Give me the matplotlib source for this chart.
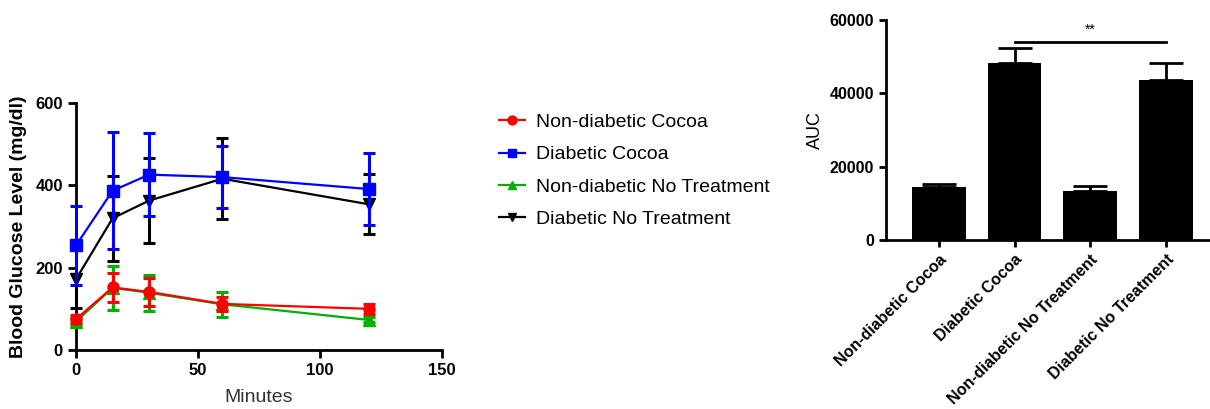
import matplotlib

matplotlib.use("Agg")
import matplotlib.pyplot as plt

plt.rcParams["font.family"] = ["Liberation Sans", "DejaVu Sans"]

# glucose tolerance time course
minutes = [0, 15, 30, 60, 120]
series_names = ["Non-diabetic Cocoa", "Diabetic Cocoa",
                "Non-diabetic No Treatment", "Diabetic No Treatment"]
nd_cocoa = [75, 152, 141, 112, 100]
nd_cocoa_err = [10, 36, 34, 17, 12]
d_cocoa = [254, 387, 426, 420, 391]
d_cocoa_err = [97, 142, 100, 76, 87]
nd_none = [69, 151, 139, 111, 73]
nd_none_err = [8, 53, 44, 30, 6]
d_none = [172, 320, 363, 416, 354]
d_none_err = [70, 103, 103, 98, 73]

# area under curve
auc_groups = ["Non-diabetic Cocoa", "Diabetic Cocoa",
              "Non-diabetic No Treatment", "Diabetic No Treatment"]
auc_values = [14400, 48150, 13500, 43600]
auc_err = [800, 4100, 1350, 4550]

W, H = 1210, 409
fig = plt.figure(figsize=(W / 100, H / 100), dpi=100)

# ---- left: line chart ----
ax = fig.add_axes([76 / W, (H - 350) / H, (442 - 76) / W, (350 - 103) / H])
styles = [
    (nd_cocoa, nd_cocoa_err, "#ff0000", "o", 8, 4),
    (d_cocoa, d_cocoa_err, "#0000ff", "s", 8, 5),
    (nd_none, nd_none_err, "#00b000", "^", 8, 3),
    (d_none, d_none_err, "#000000", "v", 8, 2),
]
handles = []
for (vals, err, col, mk, ms, z), name in zip(styles, series_names):
    h = ax.errorbar(minutes, vals, yerr=err, color=col, marker=mk, ms=ms,
                    lw=1.6, elinewidth=2.2, capsize=4, capthick=2.2,
                    zorder=z, label=name, clip_on=False)
    handles.append(h)

ax.set_xlim(0, 150)
ax.set_ylim(0, 600)
ax.set_xticks([0, 50, 100, 150])
ax.set_yticks([0, 200, 400, 600])
for s in ["top", "right"]:
    ax.spines[s].set_visible(False)
for s in ["left", "bottom"]:
    ax.spines[s].set_linewidth(2)
ax.tick_params(width=2, length=6, labelsize=12)
for lab in ax.get_xticklabels() + ax.get_yticklabels():
    lab.set_fontweight("bold")
ax.set_ylabel("Blood Glucose Level (mg/dl)", fontsize=14, fontweight="bold",
              labelpad=6)
ax.set_xlabel("Minutes", fontsize=14, color="#333333", labelpad=8)

fig.legend(handles=[h[0] for h in handles], labels=series_names,
           loc="upper left", bbox_to_anchor=(481 / W, 1 - 96 / H),
           frameon=False, fontsize=14, handlelength=1.35, labelspacing=0.75,
           handletextpad=0.6, markerscale=0.8)

# ---- right: AUC bars ----
bx = fig.add_axes([886 / W, (H - 240) / H, (1209 - 886) / W, (240 - 20) / H])
pos = list(range(len(auc_groups)))
bx.bar(pos, auc_values, width=0.71, color="black")
bx.errorbar(pos, auc_values, yerr=[[0] * 4, auc_err], fmt="none",
            ecolor="black", elinewidth=2, capsize=12, capthick=2)
bx.set_xlim(-0.7, 3.57)
bx.set_ylim(0, 60000)
bx.set_yticks([0, 20000, 40000, 60000])
bx.set_xticks(pos)
bx.set_xticklabels(auc_groups, rotation=45, ha="right", rotation_mode="anchor",
                   fontsize=11.5, fontweight="bold")
for lab in bx.get_yticklabels():
    lab.set_fontweight("bold")
for s in ["top", "right"]:
    bx.spines[s].set_visible(False)
for s in ["left", "bottom"]:
    bx.spines[s].set_linewidth(2)
bx.tick_params(width=2, length=5, labelsize=11.5)
bx.set_ylabel("AUC", fontsize=13)

# significance bar
bx.plot([pos[1], pos[3]], [54100, 54100], color="black", lw=2)
bx.text((pos[1] + pos[3]) / 2, 55300, "**", ha="center", va="bottom", fontsize=10)

fig.savefig("out.png", dpi=100)
